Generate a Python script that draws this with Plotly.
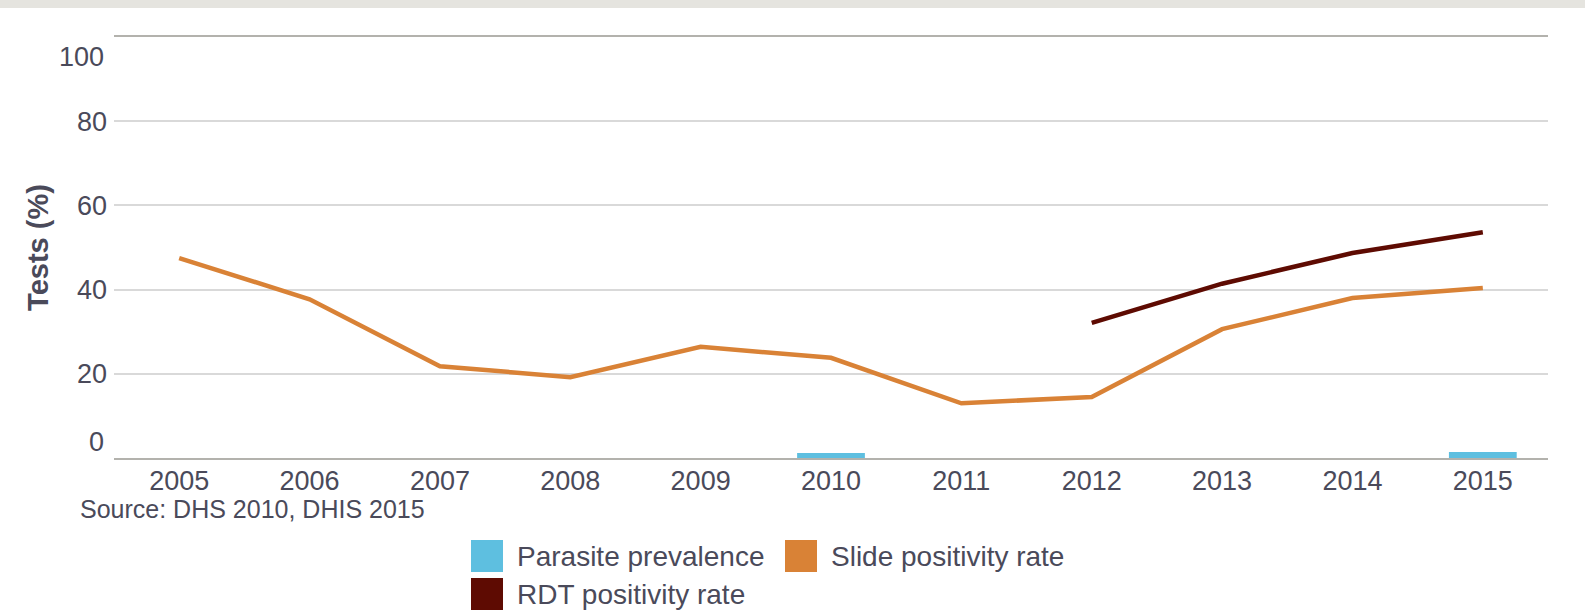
import plotly.graph_objects as go

years = ["2005", "2006", "2007", "2008", "2009", "2010", "2011", "2012", "2013", "2014", "2015"]
parasite_years = ["2010", "2015"]
parasite_prevalence = [1.2, 1.4]
slide_positivity = [47.5, 37.7, 21.8, 19.2, 26.4, 23.8, 13.0, 14.5, 30.6, 38.0, 40.4]
rdt_years = ["2012", "2013", "2014", "2015"]
rdt_positivity = [32.1, 41.4, 48.7, 53.6]
y_ticks = [0, 20, 40, 60, 80, 100]

names = ["Parasite prevalence", "Slide positivity rate", "RDT positivity rate"]
colors = ["#5ebfe0", "#d98236", "#5e0b02"]

W, H = 1585, 616
L, R, T, B = 114, 1548, 37, 458
TXT = "#4a4a5a"
FONT = "Liberation Sans, Arial, Helvetica, sans-serif"


def px(x):
    return (x - L) / (R - L)


def py(y):
    return (B - y) / (B - T)


fig = go.Figure()
fig.add_trace(go.Bar(x=parasite_years, y=parasite_prevalence, name=names[0],
                     marker=dict(color=colors[0], line=dict(width=0)), width=0.52))
fig.add_trace(go.Scatter(x=years, y=slide_positivity, name=names[1], mode="lines",
                         line=dict(color=colors[1], width=4.5)))
fig.add_trace(go.Scatter(x=rdt_years, y=rdt_positivity, name=names[2], mode="lines",
                         line=dict(color=colors[2], width=4.5)))

shapes = [
    dict(type="rect", xref="paper", yref="paper", x0=px(0), x1=px(W), y0=py(0), y1=py(8),
         fillcolor="#e5e4df", line=dict(width=0), layer="above"),
]
annotations = [
    dict(text="0", xref="paper", x=0, y=0, yref="y", xanchor="right", yanchor="middle",
         xshift=-8, yshift=16, showarrow=False, font=dict(size=27, color=TXT, family=FONT)),
    dict(text="100", xref="paper", x=0, y=100, yref="y", xanchor="right", yanchor="middle",
         xshift=-8, yshift=-20, showarrow=False, font=dict(size=27, color=TXT, family=FONT)),
    dict(text="Source: DHS 2010, DHIS 2015", xref="paper", yref="paper", x=px(78), y=py(509),
         xanchor="left", yanchor="middle", showarrow=False,
         font=dict(size=25, color=TXT, family=FONT)),
]

legend_items = [(471, 556), (785, 556), (471, 594)]
for (lx, ly), name, col in zip(legend_items, names, colors):
    shapes.append(dict(type="rect", xref="paper", yref="paper", x0=px(lx), x1=px(lx + 32),
                       y0=py(ly + 16), y1=py(ly - 16), fillcolor=col, line=dict(width=0)))
    annotations.append(dict(text=name, xref="paper", yref="paper", x=px(lx + 44), y=py(ly),
                            xanchor="left", yanchor="middle", showarrow=False,
                            font=dict(size=28, color=TXT, family=FONT)))

fig.update_layout(
    width=W, height=H,
    margin=dict(l=L, r=W - R, t=T, b=H - B, pad=0, autoexpand=False),
    paper_bgcolor="white", plot_bgcolor="white",
    showlegend=False,
    font=dict(family=FONT, color=TXT),
    shapes=shapes, annotations=annotations,
    xaxis=dict(type="category", categoryorder="array", categoryarray=years,
               range=[-0.5, len(years) - 0.5], automargin=False,
               showgrid=False, showline=True, linecolor="#b3b2ad", linewidth=2, mirror=True,
               ticks="", tickfont=dict(size=27, color=TXT), ticklabelstandoff=-2),
    yaxis=dict(range=[0, 100], tickvals=y_ticks, automargin=False,
               ticktext=["" if v in (0, 100) else str(v) for v in y_ticks],
               showgrid=True, gridcolor="#d9d9d9", gridwidth=2, zeroline=False,
               showline=False, ticks="", tickfont=dict(size=27, color=TXT),
               ticklabelstandoff=6,
               title=dict(text="<b>Tests (%)</b>", font=dict(size=29, color=TXT), standoff=19)),
)

fig.write_html("out.html", config={"displayModeBar": False},
               post_script="document.body.style.margin='0';document.body.style.overflow='hidden';")
